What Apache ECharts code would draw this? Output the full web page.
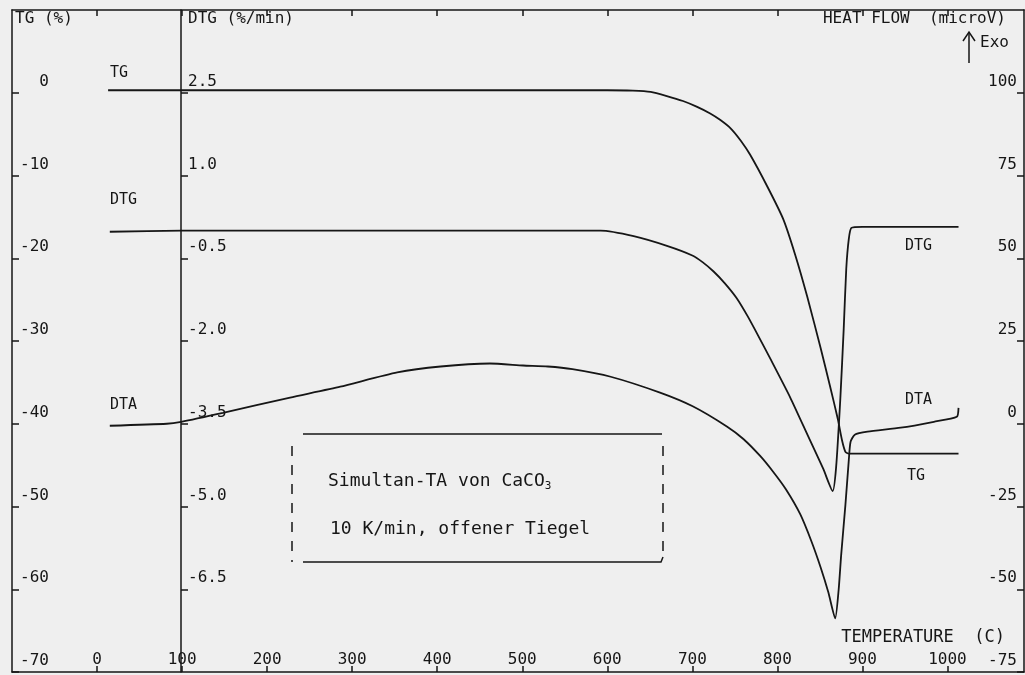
<!DOCTYPE html>
<html>
<head>
<meta charset="utf-8">
<title>Simultan-TA von CaCO3</title>
<script src="https://cdn.jsdelivr.net/npm/echarts@6/dist/echarts.min.js"></script>
<style>
  html, body { margin: 0; padding: 0; background: #efefef; }
  #chart { width: 1025px; height: 675px; }
</style>
</head>
<body>
<div id="chart"></div>
<script>
// --- data ---
// TG (%)
const tgTemp = [13, 100, 200, 300, 400, 500, 600, 630, 651, 670, 689, 705, 721, 733, 745, 757, 768, 788, 807, 821, 835, 851, 862, 871, 876, 880, 884, 900, 950, 1013];
const tgValue = [0.3, 0.3, 0.3, 0.3, 0.3, 0.3, 0.3, 0.25, 0.1, -0.4, -1.0, -1.68, -2.5, -3.3, -4.3, -5.8, -7.5, -11.3, -15.3, -19.6, -24.6, -30.9, -35.5, -39.4, -42.0, -43.4, -43.6, -43.6, -43.6, -43.6];

// DTG (%/min)
const dtgTemp = [15, 100, 200, 300, 400, 500, 592, 631, 671, 700, 712, 725, 738, 752, 765, 778, 792, 815, 836, 854, 865, 869, 874, 878, 881, 884, 887, 900, 950, 1013];
const dtgValue = [-0.02, 0, 0, 0, 0, 0, 0, -0.1, -0.28, -0.45, -0.57, -0.74, -0.95, -1.22, -1.55, -1.92, -2.33, -3.02, -3.72, -4.32, -4.72, -4.3, -3.05, -1.78, -0.69, -0.15, 0.05, 0.07, 0.07, 0.07];

// DTA heat flow (microV)
const dtaTemp = [15, 82, 99, 148, 227, 286, 353, 404, 462, 501, 530, 559, 604, 662, 701, 741, 760, 780, 795, 810, 827, 840, 851, 860, 868, 872, 875, 880, 884, 886, 891, 906, 945, 984, 1011, 1013];
const dtaValue = [-0.6, 0, 0.6, 3.3, 7.9, 11.2, 15.5, 17.3, 18.2, 17.6, 17.3, 16.5, 14.2, 9.4, 5.2, -0.9, -4.6, -9.8, -14.5, -19.8, -27.4, -35.5, -43.5, -51.0, -58.8, -50.3, -39.7, -24.5, -10.9, -5.5, -3.3, -2.4, -1.2, 0.6, 2.1, 4.8];

// tick labels
const tempTicks = [0, 100, 200, 300, 400, 500, 600, 700, 800, 900, 1000];
const dtgTicks = [-6.5, -5.0, -3.5, -2.0, -0.5, 1.0, 2.5];

const zip = (xs, ys) => xs.map((x, i) => [x, ys[i]]);

const ink = '#161616';
const font = 'DejaVu Sans Mono';

const chart = echarts.init(document.getElementById('chart'));

// shared look of the plotter axes
const axisBase = {
  axisLine: { show: true, onZero: false, lineStyle: { color: ink, width: 1.5 } },
  axisTick: { show: true, inside: true, length: 7, lineStyle: { color: ink, width: 1.5 } },
  splitLine: { show: false },
};

const option = {
  backgroundColor: '#efefef',
  animation: false,
  textStyle: { fontFamily: font, color: ink },
  grid: { left: 12, right: 1, top: 10, bottom: 3 },
  xAxis: [
    {
      ...axisBase,
      type: 'value',
      position: 'bottom',
      min: -100,
      max: 1090,
      axisTick: { ...axisBase.axisTick, length: 6, customValues: tempTicks },
      axisLabel: {
        inside: true,
        margin: 4,
        customValues: tempTicks,
        formatter: (v) => String(v),
        fontFamily: font,
        fontSize: 16,
        color: ink,
      },
      name: 'TEMPERATURE  (C)',
      nameLocation: 'end',
      nameGap: -19,
      nameTextStyle: {
        fontFamily: font,
        fontSize: 17,
        color: ink,
        align: 'right',
        verticalAlign: 'bottom',
        padding: [0, 0, 26, 0],
      },
    },
    {
      ...axisBase,
      type: 'value',
      position: 'top',
      min: -100,
      max: 1090,
      axisTick: { ...axisBase.axisTick, length: 6, customValues: tempTicks },
      axisLabel: { show: false },
    },
  ],
  yAxis: [
    {
      // TG
      ...axisBase,
      type: 'value',
      position: 'left',
      min: -70,
      max: 10,
      interval: 10,
      axisLabel: {
        inside: true,
        margin: 37,
        align: 'right',
        verticalAlign: 'bottom',
        padding: [0, 0, 3, 0],
        showMaxLabel: false,
        fontFamily: font,
        fontSize: 16,
        color: ink,
      },
      name: 'TG (%)',
      nameLocation: 'end',
      nameGap: -9,
      nameTextStyle: {
        fontFamily: font,
        fontSize: 16,
        color: ink,
        align: 'left',
        verticalAlign: 'middle',
        padding: [0, 0, 0, 3],
      },
    },
    {
      // DTG, drawn at 100 C
      ...axisBase,
      type: 'value',
      position: 'left',
      offset: -169,
      min: -8,
      max: 4,
      axisTick: { ...axisBase.axisTick, customValues: dtgTicks },
      axisLabel: {
        inside: true,
        margin: 7,
        verticalAlign: 'bottom',
        padding: [0, 0, 3, 0],
        customValues: dtgTicks,
        formatter: (v) => v.toFixed(1),
        fontFamily: font,
        fontSize: 16,
        color: ink,
      },
      name: 'DTG (%/min)',
      nameLocation: 'end',
      nameGap: -9,
      nameTextStyle: {
        fontFamily: font,
        fontSize: 16,
        color: ink,
        align: 'left',
        verticalAlign: 'middle',
        padding: [0, 0, 0, 7],
      },
    },
    {
      // DTA heat flow
      ...axisBase,
      type: 'value',
      position: 'right',
      min: -75,
      max: 125,
      interval: 25,
      axisLabel: {
        inside: true,
        margin: 7,
        verticalAlign: 'bottom',
        padding: [0, 0, 3, 0],
        showMaxLabel: false,
        fontFamily: font,
        fontSize: 16,
        color: ink,
      },
      name: 'HEAT FLOW  (microV)',
      nameLocation: 'end',
      nameGap: -9,
      nameTextStyle: {
        fontFamily: font,
        fontSize: 16,
        color: ink,
        align: 'right',
        verticalAlign: 'middle',
        padding: [0, 18, 0, 0],
      },
    },
  ],
  series: [
    {
      name: 'TG',
      type: 'line',
      xAxisIndex: 0,
      yAxisIndex: 0,
      showSymbol: false,
      smooth: 0.2,
      lineStyle: { color: ink, width: 1.8 },
      data: zip(tgTemp, tgValue),
    },
    {
      name: 'DTG',
      type: 'line',
      xAxisIndex: 0,
      yAxisIndex: 1,
      showSymbol: false,
      smooth: 0.2,
      lineStyle: { color: ink, width: 1.8 },
      data: zip(dtgTemp, dtgValue),
    },
    {
      name: 'DTA',
      type: 'line',
      xAxisIndex: 0,
      yAxisIndex: 2,
      showSymbol: false,
      smooth: 0.2,
      lineStyle: { color: ink, width: 1.8 },
      data: zip(dtaTemp, dtaValue),
    },
  ],
  graphic: [
    // curve labels
    { type: 'text', left: 110, top: 66, style: { text: 'TG', font: '15px ' + font, fill: ink } },
    { type: 'text', left: 110, top: 193, style: { text: 'DTG', font: '15px ' + font, fill: ink } },
    { type: 'text', left: 110, top: 398, style: { text: 'DTA', font: '15px ' + font, fill: ink } },
    { type: 'text', left: 905, top: 239, style: { text: 'DTG', font: '15px ' + font, fill: ink } },
    { type: 'text', left: 905, top: 393, style: { text: 'DTA', font: '15px ' + font, fill: ink } },
    { type: 'text', left: 907, top: 469, style: { text: 'TG', font: '15px ' + font, fill: ink } },
    // Exo arrow
    { type: 'line', shape: { x1: 969, y1: 63, x2: 969, y2: 33 }, style: { stroke: ink, lineWidth: 1.5 } },
    { type: 'polyline', shape: { points: [[963, 41], [969, 32], [975, 41]] }, style: { stroke: ink, lineWidth: 1.5, fill: null } },
    { type: 'text', left: 980, top: 35, style: { text: 'Exo', font: '16px ' + font, fill: ink } },
    // annotation box
    { type: 'line', shape: { x1: 303, y1: 434, x2: 662, y2: 434 }, style: { stroke: ink, lineWidth: 1.5 } },
    { type: 'polyline', shape: { points: [[303, 562], [661, 562], [663, 557]] }, style: { stroke: ink, lineWidth: 1.5, fill: null } },
    { type: 'line', shape: { x1: 292, y1: 446, x2: 292, y2: 562 }, style: { stroke: ink, lineWidth: 1.5, lineDash: [10, 9] } },
    { type: 'line', shape: { x1: 663, y1: 446, x2: 663, y2: 555 }, style: { stroke: ink, lineWidth: 1.5, lineDash: [10, 9] } },
    {
      type: 'text',
      left: 328,
      top: 472,
      style: {
        text: 'Simultan-TA von CaCO{sub|3}',
        font: '18px ' + font,
        fill: ink,
        rich: { sub: { fontSize: 11, fontFamily: font, padding: [10, 0, 0, 0], fill: ink } },
      },
    },
    { type: 'text', left: 330, top: 520, style: { text: '10 K/min, offener Tiegel', font: '18px ' + font, fill: ink } },
  ],
};

chart.setOption(option);
</script>
</body>
</html>
